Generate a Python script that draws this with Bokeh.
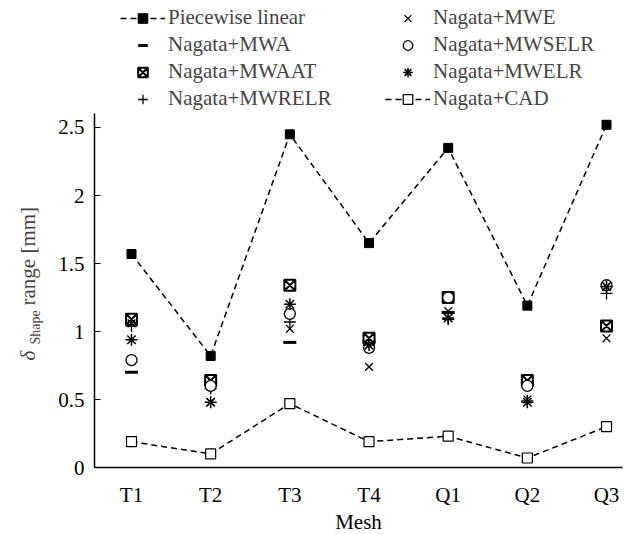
import math
from bokeh.plotting import figure
from bokeh.models import Range1d, FixedTicker, Legend, LegendItem, Label
from bokeh.embed import file_html
from bokeh.resources import INLINE

meshes = ["T1", "T2", "T3", "T4", "Q1", "Q2", "Q3"]
xpos = [1, 2, 3, 4, 5, 6, 7]

piecewise = [1.57, 0.82, 2.45, 1.65, 2.35, 1.19, 2.52]
mwa = [0.70, 0.62, 0.92, 0.93, 1.14, 0.63, 1.05]
mwaat = [1.09, 0.64, 1.34, 0.95, 1.25, 0.64, 1.04]
mwrelr = [1.04, 0.58, 1.07, 0.91, 1.09, 0.49, 1.28]
mwe = [1.06, 0.48, 1.02, 0.74, 1.15, 0.50, 0.95]
mwselr = [0.79, 0.60, 1.13, 0.88, 1.25, 0.60, 1.34]
mwelr = [0.94, 0.48, 1.20, 0.90, 1.10, 0.48, 1.33]
cad = [0.19, 0.10, 0.47, 0.19, 0.23, 0.07, 0.30]

yticks = [0, 0.5, 1, 1.5, 2, 2.5]
ytick_labels = ["0", "0.5", "1", "1.5", "2", "2.5"]

FONT = "Liberation Serif"
W, H = 624, 534

# data window: the frame covers the whole canvas, axes drawn at fixed locations
p = figure(width=W, height=H, output_backend="svg", toolbar_location=None,
           x_range=Range1d(-0.6547, 7.227), y_range=Range1d(-0.4926, 3.4338),
           min_border=0)
p.outline_line_color = None
p.grid.visible = False
p.background_fill_color = "white"
p.border_fill_color = "white"

X0, X1 = 0.533, 7.2
Y0, Y1 = 0.0, 2.6

p.xaxis.ticker = FixedTicker(ticks=xpos)
p.xaxis.major_label_overrides = {x: m for x, m in zip(xpos, meshes)}
p.yaxis.ticker = FixedTicker(ticks=yticks)
p.yaxis.major_label_overrides = {t: l for t, l in zip(yticks, ytick_labels)}
p.xaxis.fixed_location = Y0
p.yaxis.fixed_location = X0
p.xaxis.bounds = (X0, X1)
p.yaxis.bounds = (Y0, Y1)
for ax in (p.xaxis[0], p.yaxis[0]):
    ax.axis_line_color = "black"
    ax.axis_line_width = 1.5
    ax.major_label_text_font = FONT
    ax.major_label_text_font_size = "21px"
    ax.major_label_text_color = "black"
    ax.minor_tick_line_color = None
p.yaxis.major_tick_in = 6
p.yaxis.major_tick_out = 0
p.yaxis.major_tick_line_color = "black"
p.yaxis.major_tick_line_width = 1.2
p.yaxis.major_label_standoff = 10
p.xaxis.major_tick_in = 0
p.xaxis.major_tick_out = 0
p.xaxis.major_label_standoff = 15
p.xaxis.axis_label = "Mesh"
p.xaxis.axis_label_text_font = FONT
p.xaxis.axis_label_text_font_style = "normal"
p.xaxis.axis_label_text_font_size = "21px"
p.xaxis.axis_label_text_color = "black"
p.xaxis.axis_label_standoff = 0

dash = "6 4"
r_pw_l = p.line(xpos, piecewise, line_color="black", line_width=1.5, line_dash=dash)
r_pw_m = p.scatter(xpos, piecewise, marker="square", size=9, fill_color="black", line_color="black")
r_cad_l = p.line(xpos, cad, line_color="black", line_width=1.5, line_dash=dash)
r_cad_m = p.scatter(xpos, cad, marker="square", size=10, fill_color="white", line_color="black", line_width=1.2)

r_mwa = p.scatter(xpos, mwa, marker="dash", size=13, line_color="black", line_width=3)
r_mwaat = p.scatter(xpos, mwaat, marker="square_x", size=11, fill_color="white", line_color="black", line_width=2)
r_mwrelr = p.scatter(xpos, mwrelr, marker="cross", size=12, line_color="black", line_width=1.3)
r_mwe = p.scatter(xpos, mwe, marker="x", size=11, line_color="black", line_width=1.3)
r_mwselr = p.scatter(xpos, mwselr, marker="circle", size=11, fill_color="white", line_color="black", line_width=1.3)
r_mwelr = p.scatter(xpos, mwelr, marker="asterisk", size=12, line_color="black", line_width=1.5)

items = [
    LegendItem(label="Piecewise linear", renderers=[r_pw_l, r_pw_m]),
    LegendItem(label="Nagata+MWA", renderers=[r_mwa]),
    LegendItem(label="Nagata+MWAAT", renderers=[r_mwaat]),
    LegendItem(label="Nagata+MWRELR", renderers=[r_mwrelr]),
    LegendItem(label="Nagata+MWE", renderers=[r_mwe]),
    LegendItem(label="Nagata+MWSELR", renderers=[r_mwselr]),
    LegendItem(label="Nagata+MWELR", renderers=[r_mwelr]),
    LegendItem(label="Nagata+CAD", renderers=[r_cad_l, r_cad_m]),
]
legend = Legend(items=items, nrows=4, location=(120, 423),
                label_text_font=FONT, label_text_font_size="21px",
                glyph_width=45, glyph_height=24, spacing=2, label_standoff=3,
                border_line_color=None, background_fill_alpha=0,
                padding=0, margin=0, label_width=215)
p.add_layout(legend, "center")

# y axis title composed of pieces (delta with subscript)
p.add_layout(Label(x=27, y=174, x_units="screen", y_units="screen", text="δ",
                   angle=math.pi / 2, text_font=FONT, text_font_style="italic",
                   text_font_size="21px", text_align="left", text_baseline="middle"))
p.add_layout(Label(x=35, y=190, x_units="screen", y_units="screen", text="Shape",
                   angle=math.pi / 2, text_font=FONT,
                   text_font_size="14px", text_align="left", text_baseline="middle"))
p.add_layout(Label(x=27, y=229, x_units="screen", y_units="screen", text="range [mm]",
                   angle=math.pi / 2, text_font=FONT,
                   text_font_size="21px", text_align="left", text_baseline="middle"))

open("out.html", "w").write(file_html(p, INLINE))
